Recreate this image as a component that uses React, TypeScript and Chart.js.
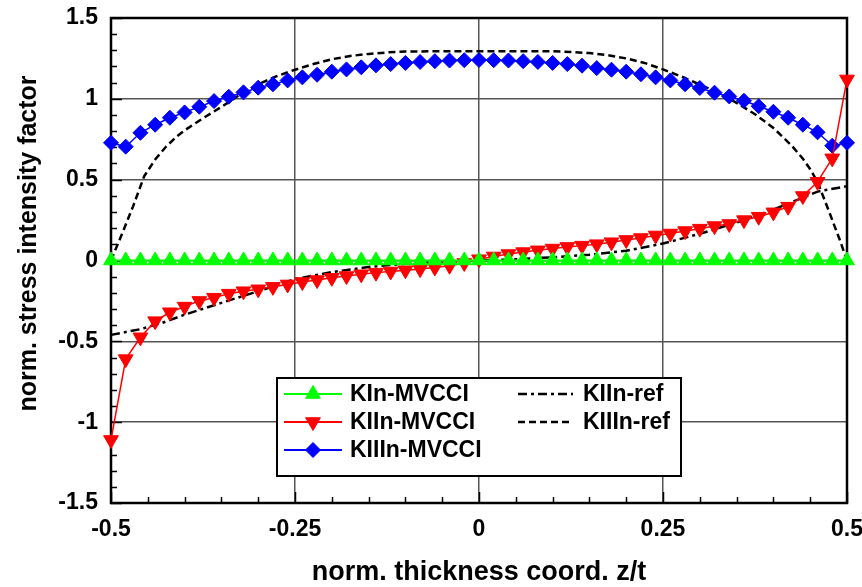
import React, { useEffect, useRef } from 'react';
import { Chart, registerables } from 'chart.js';

Chart.register(...registerables);

// ---------- data ----------
const zCoords = [
  -0.5, -0.48, -0.46, -0.44, -0.42, -0.4, -0.38, -0.36, -0.34, -0.32,
  -0.3, -0.28, -0.26, -0.24, -0.22, -0.2, -0.18, -0.16, -0.14, -0.12,
  -0.1, -0.08, -0.06, -0.04, -0.02, 0, 0.02, 0.04, 0.06, 0.08,
  0.1, 0.12, 0.14, 0.16, 0.18, 0.2, 0.22, 0.24, 0.26, 0.28,
  0.3, 0.32, 0.34, 0.36, 0.38, 0.4, 0.42, 0.44, 0.46, 0.48, 0.5,
];

const kInMVCCI = [
  0, 0, 0, 0, 0, 0, 0, 0, 0, 0,
  0, 0, 0, 0, 0, 0, 0, 0, 0, 0,
  0, 0, 0, 0, 0, 0, 0, 0, 0, 0,
  0, 0, 0, 0, 0, 0, 0, 0, 0, 0,
  0, 0, 0, 0, 0, 0, 0, 0, 0, 0, 0,
];

const kIInMVCCI = [
  -1.11, -0.61, -0.475, -0.375, -0.32, -0.285, -0.25, -0.23, -0.205, -0.19,
  -0.178, -0.163, -0.148, -0.133, -0.121, -0.107, -0.096, -0.085, -0.075, -0.068,
  -0.06, -0.053, -0.043, -0.032, -0.015, 0.008, 0.025, 0.04, 0.052, 0.063,
  0.074, 0.084, 0.092, 0.101, 0.113, 0.127, 0.139, 0.155, 0.167, 0.182,
  0.197, 0.213, 0.226, 0.25, 0.271, 0.298, 0.333, 0.399, 0.487, 0.632, 1.12,
];

const kIIInMVCCI = [
  0.728, 0.704, 0.79, 0.84, 0.883, 0.916, 0.951, 0.986, 1.013, 1.04,
  1.069, 1.09, 1.114, 1.133, 1.149, 1.168, 1.182, 1.195, 1.207, 1.215,
  1.222, 1.228, 1.233, 1.237, 1.239, 1.24, 1.239, 1.237, 1.233, 1.228,
  1.222, 1.215, 1.205, 1.19, 1.18, 1.168, 1.152, 1.133, 1.114, 1.09,
  1.067, 1.038, 1.015, 0.988, 0.954, 0.92, 0.883, 0.84, 0.793, 0.71, 0.728,
];

const zRefII = [
  -0.5, -0.46, -0.43, -0.4, -0.35, -0.3, -0.25, -0.2, -0.15, -0.1, -0.05, 0,
  0.05, 0.1, 0.15, 0.2, 0.25, 0.3, 0.35, 0.4, 0.43, 0.46, 0.5,
];
const kIInRef = [
  -0.46, -0.425, -0.385, -0.335, -0.262, -0.19, -0.115, -0.072, -0.04, -0.02, -0.008, 0,
  0.008, 0.02, 0.036, 0.06, 0.105, 0.165, 0.235, 0.315, 0.37, 0.426, 0.46,
];

const zRefIII = [
  -0.5, -0.485, -0.47, -0.455, -0.44, -0.425, -0.41, -0.4, -0.375, -0.35,
  -0.325, -0.3, -0.275, -0.25, -0.225, -0.2, -0.175, -0.15, -0.125, -0.1,
  0, 0.1, 0.125, 0.15, 0.175, 0.2, 0.225, 0.25, 0.275, 0.3,
  0.325, 0.35, 0.375, 0.4, 0.425, 0.44, 0.45, 0.46, 0.475, 0.49, 0.5,
];
const kIIInRef = [
  0, 0.165, 0.335, 0.52, 0.625, 0.705, 0.77, 0.805, 0.88, 0.95,
  1.025, 1.09, 1.14, 1.18, 1.215, 1.245, 1.265, 1.278, 1.287, 1.293,
  1.295, 1.295, 1.29, 1.283, 1.27, 1.25, 1.222, 1.182, 1.138, 1.088,
  1.038, 0.975, 0.905, 0.82, 0.71, 0.63, 0.565, 0.485, 0.31, 0.13, 0,
];

const seriesLabels = ['KIn-MVCCI', 'KIIn-MVCCI', 'KIIIn-MVCCI', 'KIIn-ref', 'KIIIn-ref'];

const xTickValues = [-0.5, -0.25, 0, 0.25, 0.5];
const xTickLabels = ['-0.5', '-0.25', '0', '0.25', '0.5'];
const yTickValues = [-1.5, -1, -0.5, 0, 0.5, 1, 1.5];
const yTickLabels = ['-1.5', '-1', '-0.5', '0', '0.5', '1', '1.5'];

const xTitle = 'norm. thickness coord. z/t';
const yTitle = 'norm. stress intensity factor';

// ---------- helpers ----------
const FONT = '"Liberation Sans", Arial, Helvetica, sans-serif';

const pairs = (xs: number[], ys: number[]) => xs.map((x, i) => ({ x, y: ys[i] }));

function drawMarker(ctx: CanvasRenderingContext2D, style: string, rotation: number, x: number, y: number, r: number) {
  ctx.beginPath();
  if (style === 'triangle') {
    let rad = (rotation * Math.PI) / 180;
    for (let k = 0; k < 3; k++) {
      const px = x + Math.sin(rad) * r;
      const py = y - Math.cos(rad) * r;
      if (k === 0) ctx.moveTo(px, py);
      else ctx.lineTo(px, py);
      rad += (2 * Math.PI) / 3;
    }
  } else {
    ctx.moveTo(x - r, y);
    ctx.lineTo(x, y - r);
    ctx.lineTo(x + r, y);
    ctx.lineTo(x, y + r);
  }
  ctx.closePath();
  ctx.fill();
  ctx.stroke();
}

const decorPlugin = {
  id: 'decor',
  beforeDatasetsDraw(chart: any) {
    const { ctx, chartArea: a, scales } = chart;
    const xs = scales.x;
    const ys = scales.y;
    ctx.save();
    ctx.strokeStyle = '#000';
    ctx.lineWidth = 1.5;
    for (let i = 0; i <= 20; i++) {
      const v = -0.5 + i * 0.05;
      const px = Math.round(xs.getPixelForValue(v)) + 0.5;
      const len = i % 5 === 0 ? 11 : 6;
      ctx.beginPath();
      ctx.moveTo(px, a.bottom);
      ctx.lineTo(px, a.bottom - len);
      ctx.stroke();
    }
    for (let i = 0; i <= 30; i++) {
      const v = -1.5 + i * 0.1;
      const py = Math.round(ys.getPixelForValue(v)) + 0.5;
      const len = i % 5 === 0 ? 11 : 6;
      ctx.beginPath();
      ctx.moveTo(a.left, py);
      ctx.lineTo(a.left + len, py);
      ctx.stroke();
    }
    ctx.lineWidth = 2.5;
    ctx.strokeRect(a.left, a.top, a.right - a.left, a.bottom - a.top);
    ctx.restore();
  },
  afterDraw(chart: any) {
    const { ctx, chartArea: a } = chart;
    const ds = chart.data.datasets;

    // y axis title
    ctx.save();
    ctx.translate(29, (a.top + a.bottom) / 2 - 17);
    ctx.rotate(-Math.PI / 2);
    ctx.font = `bold 25px ${FONT}`;
    ctx.fillStyle = '#000';
    ctx.textAlign = 'center';
    ctx.textBaseline = 'middle';
    ctx.fillText(yTitle, 0, 0);
    ctx.restore();

    // legend
    const box = { left: 277, top: 378, right: 681, bottom: 476 };
    ctx.save();
    ctx.fillStyle = '#fff';
    ctx.fillRect(box.left, box.top, box.right - box.left, box.bottom - box.top);
    ctx.strokeStyle = '#000';
    ctx.lineWidth = 2;
    ctx.strokeRect(box.left, box.top, box.right - box.left, box.bottom - box.top);

    const entries = [
      { i: 0, x0: 284, x1: 342, tx: 350, y: 394 },
      { i: 1, x0: 284, x1: 342, tx: 350, y: 422 },
      { i: 2, x0: 284, x1: 342, tx: 350, y: 450 },
      { i: 3, x0: 518, x1: 573, tx: 583, y: 394 },
      { i: 4, x0: 518, x1: 573, tx: 583, y: 422 },
    ];
    ctx.font = `bold 23px ${FONT}`;
    ctx.textBaseline = 'middle';
    ctx.textAlign = 'left';
    for (const e of entries) {
      const d = ds[e.i];
      ctx.save();
      ctx.strokeStyle = d.borderColor;
      ctx.lineWidth = d.borderDash && d.borderDash.length ? 2.5 : 2;
      ctx.setLineDash(d.borderDash || []);
      ctx.beginPath();
      ctx.moveTo(e.x0, e.y);
      ctx.lineTo(e.x1, e.y);
      ctx.stroke();
      ctx.setLineDash([]);
      if (d.pointRadius > 0) {
        ctx.fillStyle = d.pointBackgroundColor;
        ctx.strokeStyle = d.pointBorderColor;
        ctx.lineWidth = 1;
        drawMarker(ctx, d.pointStyle, d.pointRotation || 0, (e.x0 + e.x1) / 2, e.y, d.pointRadius);
      }
      ctx.restore();
      ctx.fillStyle = '#000';
      ctx.fillText(d.label, e.tx, e.y + 1);
    }
    ctx.restore();
  },
};

export default function App() {
  const canvasRef = useRef<HTMLCanvasElement | null>(null);

  useEffect(() => {
    const canvas = canvasRef.current;
    if (!canvas) return;
    Chart.defaults.font.family = FONT;
    Chart.defaults.color = '#000';

    const green = '#00ff00';
    const red = '#ff0000';
    const blue = '#0000ff';

    const chart = new Chart(canvas, {
      type: 'line',
      data: {
        datasets: [
          {
            label: seriesLabels[0],
            data: pairs(zCoords, kInMVCCI),
            borderColor: green,
            backgroundColor: green,
            borderWidth: 2,
            pointStyle: 'triangle',
            pointRotation: 0,
            pointRadius: 8.5,
            pointBackgroundColor: green,
            pointBorderColor: green,
            pointBorderWidth: 1,
            clip: false,
          },
          {
            label: seriesLabels[1],
            data: pairs(zCoords, kIInMVCCI),
            borderColor: red,
            backgroundColor: red,
            borderWidth: 1.5,
            pointStyle: 'triangle',
            pointRotation: 180,
            pointRadius: 8.5,
            pointBackgroundColor: red,
            pointBorderColor: red,
            pointBorderWidth: 1,
            clip: false,
          },
          {
            label: seriesLabels[2],
            data: pairs(zCoords, kIIInMVCCI),
            borderColor: blue,
            backgroundColor: blue,
            borderWidth: 1.5,
            pointStyle: 'rectRot',
            pointRadius: 7.5,
            pointBackgroundColor: blue,
            pointBorderColor: blue,
            pointBorderWidth: 1,
            clip: false,
          },
          {
            label: seriesLabels[3],
            data: pairs(zRefII, kIInRef),
            borderColor: '#000',
            borderWidth: 2.5,
            borderDash: [9, 4, 3, 4],
            pointRadius: 0,
            clip: false,
          },
          {
            label: seriesLabels[4],
            data: pairs(zRefIII, kIIInRef),
            borderColor: '#000',
            borderWidth: 2.5,
            borderDash: [7, 4],
            pointRadius: 0,
            clip: false,
          },
        ],
      } as any,
      options: {
        animation: false,
        responsive: false,
        devicePixelRatio: 1,
        events: [],
        layout: { padding: { left: 0, top: 18, right: 15, bottom: 0 } },
        elements: { line: { tension: 0 } },
        plugins: {
          legend: { display: false },
          tooltip: { enabled: false },
        },
        scales: {
          x: {
            type: 'linear',
            min: -0.5,
            max: 0.5,
            afterBuildTicks: (scale: any) => {
              scale.ticks = xTickValues.map((v) => ({ value: v }));
            },
            afterFit: (scale: any) => {
              scale.height = 84;
              scale.paddingLeft = 0;
              scale.paddingRight = 0;
            },
            ticks: {
              padding: 13,
              maxRotation: 0,
              autoSkip: false,
              font: { size: 23, weight: 'bold' },
              color: '#000',
              callback: (v: any) => xTickLabels[xTickValues.indexOf(Number(v))] ?? '',
            },
            grid: { color: '#555', lineWidth: 1.5, drawTicks: false },
            border: { display: false },
            title: {
              display: true,
              text: xTitle,
              font: { size: 27, weight: 'bold' },
              color: '#000',
              padding: { top: 0, bottom: -2 },
            },
          },
          y: {
            type: 'linear',
            min: -1.5,
            max: 1.5,
            afterBuildTicks: (scale: any) => {
              scale.ticks = yTickValues.map((v) => ({ value: v }));
            },
            afterFit: (scale: any) => {
              scale.width = 111;
              scale.paddingTop = 0;
              scale.paddingBottom = 0;
            },
            ticks: {
              padding: 13,
              autoSkip: false,
              font: { size: 23, weight: 'bold' },
              color: '#000',
              callback: (v: any) => yTickLabels[yTickValues.indexOf(Number(v))] ?? '',
            },
            grid: { color: '#555', lineWidth: 1.5, drawTicks: false },
            border: { display: false },
            title: { display: false, text: yTitle },
          },
        },
      } as any,
      plugins: [decorPlugin as any],
    });

    return () => chart.destroy();
  }, []);

  return (
    <div style={{ position: 'absolute', left: 0, top: 0, width: 862, height: 587, background: '#fff' }}>
      <canvas ref={canvasRef} width={862} height={587} style={{ display: 'block', width: 862, height: 587 }} />
    </div>
  );
}
